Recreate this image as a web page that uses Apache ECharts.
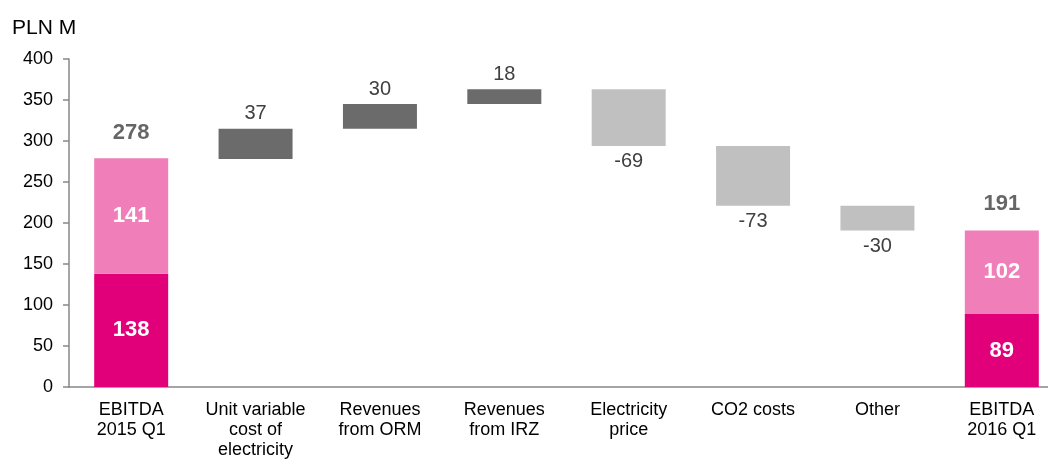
<!DOCTYPE html>
<html>
<head>
<meta charset="utf-8">
<script src="https://cdn.jsdelivr.net/npm/echarts@6/dist/echarts.min.js"></script>
<style>
html, body { margin: 0; padding: 0; background: #fff; }
#chart { width: 1048px; height: 460px; }
</style>
</head>
<body>
<div id="chart"></div>
<script>
// categories and values (PLN M)
const categories = ['EBITDA\n2015 Q1', 'Unit variable\ncost of\nelectricity', 'Revenues\nfrom ORM',
	'Revenues\nfrom IRZ', 'Electricity\nprice', 'CO2 costs', 'Other', 'EBITDA\n2016 Q1'];
const totals = [278, null, null, null, null, null, null, 191];
const lowerPart = [138, null, null, null, null, null, null, 89];
const upperPart = [141, null, null, null, null, null, null, 102];
const changes = [null, 37, 30, 18, -69, -73, -30, null];
const yTicks = {min: 0, max: 400, interval: 50};

const font = '"Liberation Sans", Arial, sans-serif';

// running waterfall bases
let base = [];
let running = 0;
categories.forEach((_, i) => {
	if (changes[i] === null) {
		base.push(0);
		running = totals[i];
	} else {
		let next = running + changes[i];
		base.push(Math.min(running, next));
		running = next;
	}
});
const ups = changes.map(v => v !== null && v > 0 ? v : null);
const downs = changes.map(v => v !== null && v < 0 ? -v : null);

const chart = echarts.init(document.getElementById('chart'));
const bar = {type: 'bar', stack: 'wf', barWidth: 74};

chart.setOption({
	animation: false,
	textStyle: {fontFamily: font},
	title: {text: 'PLN M', left: 7, top: 13,
		textStyle: {fontFamily: font, fontSize: 21, fontWeight: 'normal', color: '#000'}},
	grid: {left: 69, width: 995, top: 59, bottom: 73, containLabel: false, outerBoundsMode: 'none'},
	xAxis: {
		type: 'category',
		data: categories,
		axisLine: {lineStyle: {color: '#888', width: 1.5}},
		axisTick: {show: false},
		axisLabel: {interval: 0, fontSize: 18, lineHeight: 20, color: '#000', margin: 13, fontFamily: font}
	},
	yAxis: {
		type: 'value',
		min: yTicks.min, max: yTicks.max, interval: yTicks.interval,
		splitLine: {show: false},
		axisLine: {show: true, lineStyle: {color: '#888', width: 1.5}},
		axisTick: {show: true, length: 6, lineStyle: {color: '#888', width: 1.5}},
		axisLabel: {fontSize: 18, color: '#000', margin: 16, fontFamily: font}
	},
	series: [
		{...bar, name: 'base', data: base, itemStyle: {color: 'transparent'}, silent: true},
		{...bar, name: 'lower', data: lowerPart, itemStyle: {color: '#E2007A'},
			label: {show: true, position: 'inside', color: '#fff', fontSize: 22, fontWeight: 'bold', fontFamily: font}},
		{...bar, name: 'upper', data: upperPart, itemStyle: {color: '#F07EB8'},
			label: {show: true, position: 'inside', color: '#fff', fontSize: 22, fontWeight: 'bold', fontFamily: font}},
		{...bar, name: 'up', data: ups, itemStyle: {color: '#6B6B6B'},
			label: {show: true, position: 'top', distance: 5, color: '#404040', fontSize: 20, fontFamily: font}},
		{...bar, name: 'down', data: downs, itemStyle: {color: '#C0C0C0'},
			label: {show: true, position: 'bottom', distance: 6, color: '#404040', fontSize: 20, fontFamily: font,
				formatter: p => '-' + p.value}},
		{type: 'scatter', name: 'total', data: totals, symbolSize: 0, silent: true,
			label: {show: true, position: 'top', distance: 15, color: '#404040', fontSize: 22, fontWeight: 'bold', fontFamily: font}}
	]
});
</script>
</body>
</html>
